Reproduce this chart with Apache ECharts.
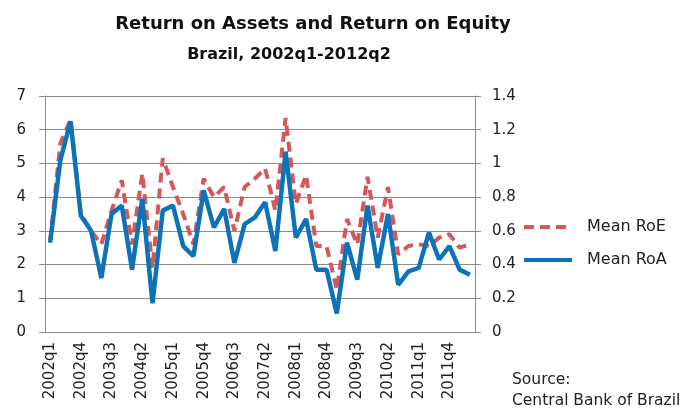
<!DOCTYPE html>
<html lang="en">
<head>
    <meta charset="UTF-8">
    <title>Return on Assets and Return on Equity</title>
    <style>
        html, body { margin: 0; padding: 0; background: #fff; }
        #chart { width: 684px; height: 408px; }
    </style>
</head>
<body>
<div id="chart"></div>
<script src="https://cdn.jsdelivr.net/npm/echarts@6.0.0/dist/echarts.min.js"></script>
<script type="text/javascript">
    // quarters 2002q1 .. 2012q2
    var quarters = [
        '2002q1', '2002q2', '2002q3', '2002q4',
        '2003q1', '2003q2', '2003q3', '2003q4',
        '2004q1', '2004q2', '2004q3', '2004q4',
        '2005q1', '2005q2', '2005q3', '2005q4',
        '2006q1', '2006q2', '2006q3', '2006q4',
        '2007q1', '2007q2', '2007q3', '2007q4',
        '2008q1', '2008q2', '2008q3', '2008q4',
        '2009q1', '2009q2', '2009q3', '2009q4',
        '2010q1', '2010q2', '2010q3', '2010q4',
        '2011q1', '2011q2', '2011q3', '2011q4',
        '2012q1', '2012q2'
    ];
    // left axis
    var meanRoE = [
        2.7, 5.6, 6.3, 3.5, 3.0, 2.6, 3.6, 4.5, 2.6, 4.7,
        1.9, 5.15, 4.3, 3.5, 2.6, 4.55, 4.0, 4.3, 3.0, 4.3,
        4.55, 4.85, 3.6, 6.35, 3.8, 4.65, 2.55, 2.55, 1.25, 3.35,
        2.6, 4.6, 2.8, 4.3, 2.3, 2.55, 2.6, 2.55, 2.8, 2.9,
        2.5, 2.6
    ];
    // right axis
    var meanRoA = [
        0.53, 1.02, 1.25, 0.69, 0.60, 0.32, 0.70, 0.75, 0.37, 0.79,
        0.17, 0.72, 0.75, 0.51, 0.45, 0.84, 0.62, 0.73, 0.41, 0.64,
        0.68, 0.77, 0.48, 1.07, 0.56, 0.67, 0.37, 0.37, 0.11, 0.53,
        0.31, 0.75, 0.38, 0.70, 0.28, 0.36, 0.38, 0.59, 0.43, 0.51,
        0.37, 0.34
    ];
    var seriesNames = ['Mean RoE', 'Mean RoA'];

    var axisGray = '#8c8c8c';
    var labelFont = 'DejaVu Sans';

    var myChart = echarts.init(document.getElementById('chart'));

    var option = {
        animation: false,
        title: [
            {
                text: 'Return on Assets and Return on Equity',
                left: 313,
                top: 15,
                padding: 0,
                textAlign: 'center',
                textStyle: {fontFamily: labelFont, fontSize: 18, fontWeight: 'bold', color: '#111'}
            },
            {
                text: 'Brazil, 2002q1-2012q2',
                left: 289,
                top: 47,
                padding: 0,
                textAlign: 'center',
                textStyle: {fontFamily: labelFont, fontSize: 16, fontWeight: 'bold', color: '#111'}
            }
        ],
        legend: {
            orient: 'vertical',
            left: 522,
            top: 219,
            padding: 0,
            itemWidth: 48,
            itemHeight: 18,
            itemGap: 17,
            data: seriesNames,
            itemStyle: {opacity: 0},
            lineStyle: {width: 4},
            textStyle: {fontFamily: labelFont, fontSize: 16, color: '#222', padding: [0, 0, 0, 10]}
        },
        grid: {left: 45, right: 209, top: 96, bottom: 76},
        xAxis: {
            type: 'category',
            data: quarters,
            boundaryGap: true,
            axisLine: {lineStyle: {color: axisGray, width: 1}},
            axisTick: {interval: 0, length: 5, lineStyle: {color: axisGray}},
            axisLabel: {
                interval: 2,
                rotate: 90,
                margin: 10,
                fontFamily: labelFont,
                fontSize: 15,
                color: '#222'
            }
        },
        yAxis: [
            {
                type: 'value',
                min: 0,
                max: 7,
                interval: 1,
                axisLine: {show: true, lineStyle: {color: axisGray}},
                axisTick: {show: true, length: 6, lineStyle: {color: axisGray}},
                axisLabel: {margin: 19, fontFamily: labelFont, fontSize: 15, color: '#222'},
                splitLine: {lineStyle: {color: axisGray, width: 1}}
            },
            {
                type: 'value',
                min: 0,
                max: 1.4,
                interval: 0.2,
                position: 'right',
                axisLine: {show: true, lineStyle: {color: axisGray}},
                axisTick: {show: true, length: 6, lineStyle: {color: axisGray}},
                axisLabel: {margin: 17, fontFamily: labelFont, fontSize: 15, color: '#222'},
                splitLine: {show: false}
            }
        ],
        series: [
            {
                name: seriesNames[0],
                type: 'line',
                yAxisIndex: 0,
                data: meanRoE,
                symbol: 'none',
                color: '#d4585a',
                lineStyle: {color: '#d4585a', width: 4, type: [10, 6]}
            },
            {
                name: seriesNames[1],
                type: 'line',
                yAxisIndex: 1,
                data: meanRoA,
                symbol: 'none',
                color: '#0d73b8',
                lineStyle: {color: '#0d73b8', width: 4.5}
            }
        ],
        graphic: [
            {
                type: 'text',
                left: 512,
                top: 369,
                style: {
                    text: 'Source:\nCentral Bank of Brazil',
                    font: '15.5px "DejaVu Sans"',
                    fill: '#222',
                    lineHeight: 21
                }
            }
        ]
    };

    myChart.setOption(option);
</script>
</body>
</html>
